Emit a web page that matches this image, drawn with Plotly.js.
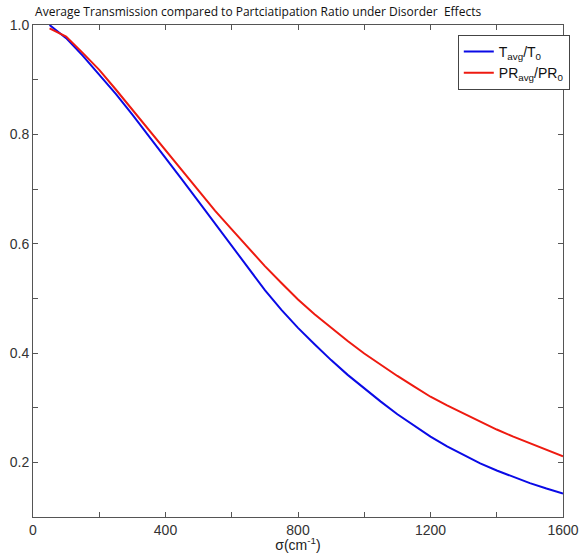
<!DOCTYPE html>
<html>
<head>
<meta charset="utf-8">
<script src="https://cdn.plot.ly/plotly-3.0.1.min.js"></script>
<style>
  html, body { margin: 0; padding: 0; background: #ffffff; }
  #chart { width: 582px; height: 553px; }
</style>
</head>
<body>
<div id="chart"></div>
<script>
// Disorder strength sigma (cm^-1)
const sigma = [50, 100, 150, 200, 250, 300, 350, 400, 450, 500, 550, 600, 650, 700, 750, 800,
               850, 900, 950, 1000, 1050, 1100, 1150, 1200, 1250, 1300, 1350, 1400, 1450, 1500, 1550, 1600];

// Average transmission normalised, T_avg / T_0
const tRatio = [1.000, 0.976, 0.944, 0.910, 0.874, 0.836, 0.797, 0.757, 0.717, 0.677, 0.636, 0.595, 0.554, 0.515, 0.479, 0.446,
                0.416, 0.387, 0.360, 0.335, 0.311, 0.288, 0.267, 0.247, 0.229, 0.213, 0.198, 0.185, 0.173, 0.162, 0.152, 0.143];

// Average participation ratio normalised, PR_avg / PR_0
const prRatio = [0.994, 0.979, 0.949, 0.918, 0.882, 0.845, 0.808, 0.772, 0.734, 0.696, 0.660, 0.626, 0.592, 0.559, 0.528, 0.498,
                 0.471, 0.446, 0.422, 0.399, 0.378, 0.358, 0.339, 0.320, 0.304, 0.289, 0.274, 0.260, 0.247, 0.235, 0.223, 0.211];

// Tick labels
const xTickVals = [0, 200, 400, 600, 800, 1000, 1200, 1400, 1600];
const xTickText = ['0', '', '400', '', '800', '', '1200', '', '1600'];
const yTickVals = [0.1, 0.2, 0.3, 0.4, 0.5, 0.6, 0.7, 0.8, 0.9, 1.0];
const yTickText = ['', '0.2', '', '0.4', '', '0.6', '', '0.8', '', '1.0'];

const traces = [
  {
    x: sigma, y: tRatio, type: 'scatter', mode: 'lines',
    name: 'T<sub>avg</sub>/T<sub>0</sub>',
    line: { color: '#0a0ae6', width: 2 }
  },
  {
    x: sigma, y: prRatio, type: 'scatter', mode: 'lines',
    name: 'PR<sub>avg</sub>/PR<sub>0</sub>',
    line: { color: '#ee1a10', width: 2 }
  }
];

const axisCommon = {
  showgrid: false, zeroline: false,
  showline: true, linecolor: '#555', linewidth: 1,
  mirror: 'ticks', ticks: 'inside', ticklen: 5, tickcolor: '#555', tickwidth: 1,
  ticklabeloverflow: 'allow',
  tickfont: { family: 'Liberation Sans, Arial, sans-serif', size: 14, color: '#333' }
};

const layout = {
  width: 582, height: 553,
  margin: { l: 33, r: 15, t: 25, b: 36 },
  paper_bgcolor: '#ffffff', plot_bgcolor: '#ffffff',
  font: { family: 'Liberation Sans, Arial, sans-serif', color: '#222' },
  title: {
    text: 'Average Transmission compared to Partciatipation Ratio under Disorder  Effects',
    font: { family: 'Open Sans, sans-serif', size: 12, color: '#111' },
    xref: 'paper', x: 0.004, xanchor: 'left',
    yref: 'container', y: 0.978, yanchor: 'middle'
  },
  xaxis: Object.assign({}, axisCommon, {
    range: [0, 1600], tickmode: 'array', tickvals: xTickVals, ticktext: xTickText,
    title: { text: 'σ(cm<sup>-1</sup>)', font: { family: 'Liberation Sans, Arial, sans-serif', size: 14, color: '#222' }, standoff: 0 }
  }),
  yaxis: Object.assign({}, axisCommon, {
    range: [0.1, 1.0], tickmode: 'array', tickvals: yTickVals, ticktext: yTickText
  }),
  showlegend: true,
  legend: {
    x: 0.8015, y: 0.98, xanchor: 'left', yanchor: 'top',
    bgcolor: '#ffffff', bordercolor: '#444', borderwidth: 1,
    font: { family: 'Liberation Sans, Arial, sans-serif', size: 14, color: '#111' },
    tracegroupgap: 0, itemwidth: 30
  }
};

Plotly.newPlot('chart', traces, layout, { displayModeBar: false, staticPlot: true });
</script>
</body>
</html>
